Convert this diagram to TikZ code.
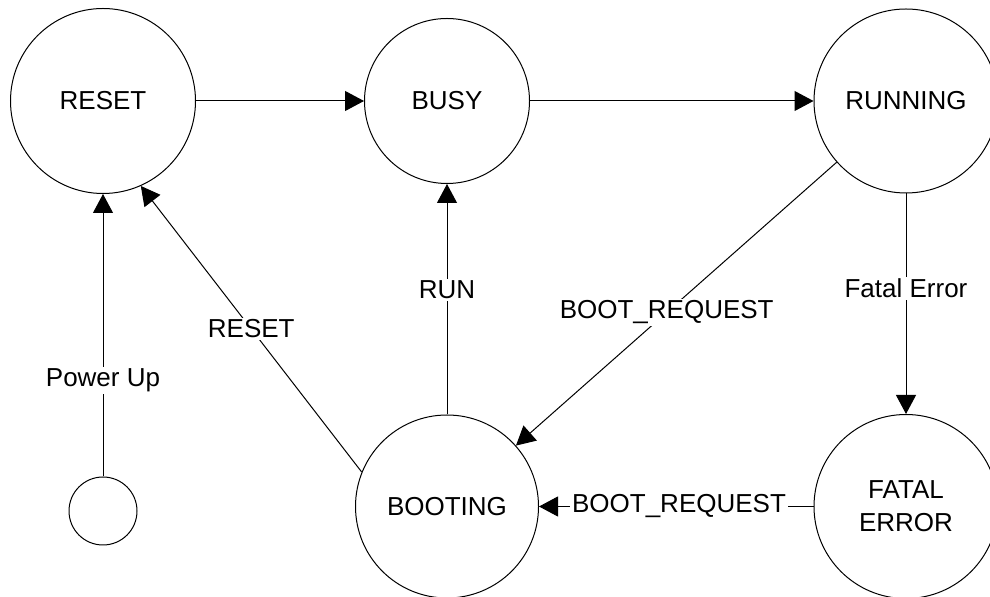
\documentclass[tikz,border=0pt]{standalone}
\usepackage{fontspec}
\setmainfont{Liberation Sans}
\usetikzlibrary{arrows.meta}
\tikzset{
	statenode/.style = {
		draw = black,
		fill = white,
		circle,
		inner sep = 0pt,
		align = center,
		line width = 0.5pt,
		font = \fontsize{13}{16.5}\selectfont
	},
	trans/.style = {
		-{Triangle[length = 9.5pt, width = 10pt]},
		line width = 0.5pt
	},
	translabel/.style = {
		fill = white,
		inner sep = 1pt,
		font = \fontsize{13}{16.5}\selectfont
	}
}
\begin{document}
\begin{tikzpicture}[x = 0.5pt, y = -0.5pt]
    \useasboundingbox (0,0) rectangle (990,597) ;
    \node [statenode, minimum size = 92.5pt] (reset) at (103,101) {RESET} ;
    \node [statenode, minimum size = 82.5pt] (busy) at (447,101) {BUSY} ;
    \node [statenode, minimum size = 92pt] (running) at (906,101) {RUNNING} ;
    \node [statenode, minimum size = 34pt] (power) at (103,511) {} ;
    \node [statenode, minimum size = 91.5pt] (booting) at (447,506.5) {BOOTING} ;
    \node [statenode, minimum size = 92pt] (fatal) at (906,506.5) {FATAL\\ERROR} ;

    \draw [trans] (reset) -- (busy) ;
    \draw [trans] (busy) -- (running) ;
    \draw [trans] (power) -- node [translabel, pos = 0.34] {Power Up} (reset) ;
    \draw [trans] (booting.158) -- node [translabel, pos = 0.5] {RESET} (reset.-66) ;
    \draw [trans] (booting) -- node [translabel, pos = 0.54] {RUN} (busy) ;
    \draw [trans] (running) -- node [translabel, pos = 0.53] {BOOT\_REQUEST} (booting) ;
    \draw [trans] (running) -- node [translabel, pos = 0.43] {Fatal Error} (fatal) ;
    \draw [trans] (fatal) -- node [translabel, pos = 0.49] {BOOT\_REQUEST} (booting) ;
\end{tikzpicture}
\end{document}
